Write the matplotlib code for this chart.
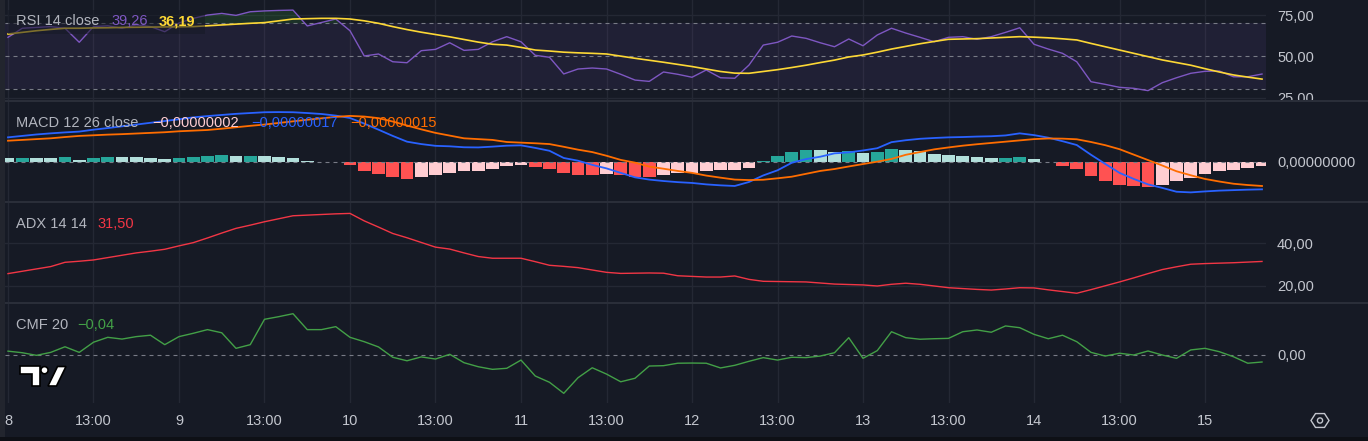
import matplotlib
matplotlib.use('Agg')
import matplotlib.pyplot as plt
import numpy as np
from matplotlib.patches import Polygon, Rectangle, Circle
from matplotlib.lines import Line2D

# ---- data (one value per 2h bar) ----
tick_pos = [0, 6, 12, 18, 24, 30, 36, 42, 48, 54, 60, 66, 72, 78, 84]
tick_lbl = ['8', '13:00', '9', '13:00', '10', '13:00', '11', '13:00',
            '12', '13:00', '13', '13:00', '14', '13:00', '15']

rsi = [61.5, 67, 67.5, 68, 67, 58.5, 68, 68.5, 67, 69,
       68, 64.9, 70.2, 73, 75, 76, 74.8, 77, 77.5, 77.8,
       78, 68.4, 70.5, 72.6, 65.5, 50.2, 51.4, 46.7, 46.1, 53.4,
       54.2, 58.2, 53.6, 54.2, 58.8, 61.9, 58.8, 50.6, 49.4, 39.3,
       42.3, 42.9, 42.3, 39.1, 35.6, 34.8, 40.5, 39.1, 37.3, 41.7,
       37, 36.7, 44.7, 56.8, 58.5, 62.3, 60.9, 58.2, 55.8, 60.5,
       56.4, 62.9, 67, 64.1, 61.5, 58.8, 61.5, 61.9, 60.3, 61.9,
       64.5, 67.3, 57.3, 54.4, 51.8, 46.7, 34.6, 33, 31.2, 30.6,
       29.2, 34, 37, 39.7, 40.9, 41.1, 37.6, 37.6, 39.26]

rsi_ma = [63.5, 64.5, 65.5, 66.3, 67, 67, 67.2, 67.3, 67.5, 67.6,
          67.7, 67.8, 67.9, 68, 68.5, 69, 69.5, 70, 70.4, 71.5,
          72.6, 72.8, 73, 73, 72.6, 71.5, 70, 68, 66.2, 64.6,
          63.2, 61.8, 60.2, 58.6, 57.3, 56.8, 55.4, 53.8, 53.2, 52.5,
          52.1, 51.8, 51.4, 50.1, 48.8, 47.6, 46.4, 45.1, 43.8, 42.3,
          40.8, 39.8, 39.7, 40.8, 41.9, 43.2, 44.6, 46.2, 47.7, 49.6,
          50.8, 52.5, 54.4, 56, 57.6, 59, 60.3, 60.5, 60.7, 61.1,
          61.5, 61.9, 61.6, 61.2, 60.6, 59.9, 57.8, 55.8, 53.8, 51.8,
          49.8, 47.8, 46.2, 44.6, 42.5, 40.5, 38.7, 37.4, 36.19]

# MACD values in units of 1e-8
macd = [15.4, 16.3, 17.2, 17.9, 18.5, 19, 20.2, 21.2, 22.3, 23.4,
        24.5, 25.6, 26.7, 27.9, 28.7, 29.4, 30.1, 30.6, 31.1, 31.2,
        31.1, 30.6, 30, 29, 27.5, 24, 20.2, 16.3, 12.7, 11.2,
        10.1, 9.8, 9.2, 9.1, 9.6, 10.2, 10.4, 8.8, 7, 2.5,
        0.8, -1.8, -4, -6.8, -9.6, -11, -11.9, -12.6, -13.1, -14,
        -14.6, -15, -12.5, -8.4, -5.2, -0.5, 1.8, 3.3, 5.4, 6,
        7.2, 8.6, 12.4, 13.6, 14.5, 15, 15.4, 15.6, 15.9, 16.1,
        16.6, 17.9, 16.8, 15.2, 13, 10.6, 4.5, -1.2, -6.8, -10.6,
        -14, -16.2, -18.6, -19, -18.4, -17.9, -17.6, -17.3, -17.1]

signal = [13.3, 13.8, 14.3, 14.8, 15.6, 16.3, 16.7, 17.1, 17.4, 17.8,
          18.2, 18.6, 19.2, 19.6, 20, 20.8, 21.7, 22.6, 23.4, 24.4,
          25.4, 26.4, 27.3, 28.2, 28.8, 28.4, 27.4, 25.3, 22.8, 20.4,
          18.2, 16.5, 14.8, 14.3, 13.8, 12.5, 12.1, 11.7, 11.2, 9.5,
          7.7, 6.2, 3.9, 1.3, -0.4, -2.9, -4.2, -5.6, -6.8, -8.5,
          -9.8, -11, -11.3, -11.1, -10.2, -9.2, -7.4, -5.6, -4.4, -2.8,
          -1.3, 0.2, 1.9, 4.5, 6.2, 7.9, 9.1, 10.2, 11.1, 11.9,
          12.7, 13.5, 14.3, 14.7, 14.6, 14.2, 12.5, 10.5, 8, 4.6,
          1.2, -2.2, -5.8, -8.3, -10.6, -12.2, -13.6, -14.4, -15]

hist = [2.2, 2.6, 2.4, 2.3, 3.1, 1.3, 2.5, 3.1, 3.0, 2.9,
        2.5, 1.9, 2.5, 3.1, 3.75, 4.6, 3.9, 4.0, 3.8, 3.1,
        2.5, 0.8, 0.3, 0.2, -1.7, -5.6, -7.3, -9.4, -10.6, -9.2,
        -8.1, -6.7, -5.6, -5.4, -4.4, -2.3, -1.7, -2.9, -4.4, -6.7,
        -7.9, -8.0, -7.8, -8.1, -9.2, -9.3, -7.9, -7.1, -6.7, -5.4,
        -5.3, -4.8, -3.5, 0.8, 3.75, 6.25, 7.5, 7.4, 6.25, 6.9,
        5.8, 6.25, 8.1, 7.5, 7.1, 5.0, 4.4, 3.75, 3.3, 2.5,
        2.6, 3.3, 1.9, 0.2, -2.3, -4.4, -8.5, -11.7, -14.2, -14.8,
        -15.4, -14.2, -11.7, -10, -7.3, -5.4, -4.8, -3.5, -2.4]

adx = [25.8, 26.9, 28, 29.1, 31.1, 31.6, 32.2, 33.3, 34.4, 35.5,
       36.3, 37.2, 38.8, 40.3, 42.5, 44.8, 47, 48.5, 50.1, 51.5,
       52.9, 53.2, 53.5, 53.8, 54, 50.5, 47.6, 44.6, 42.6, 40.4,
       38.2, 37.3, 35.5, 33.8, 33, 33, 33, 31.4, 29.7, 29.2,
       28.6, 27.5, 26.4, 25.9, 26, 26.1, 26, 24.8, 24.5, 24.2,
       24.2, 24.7, 23.1, 22.2, 22.1, 22, 21.9, 21.4, 20.9, 20.7,
       20.5, 20, 20.8, 21.3, 20.8, 20, 19.2, 18.8, 18.4, 18.1,
       18.6, 19.2, 19.1, 18.2, 17.4, 16.6, 18.3, 20.1, 21.9, 23.8,
       25.8, 27.7, 29, 30.2, 30.5, 30.7, 30.9, 31.2, 31.5]

cmf = [0.022, 0.013, -0.002, 0.015, 0.047, 0.015, 0.073, 0.101, 0.091, 0.105,
       0.113, 0.059, 0.105, 0.124, 0.145, 0.127, 0.038, 0.059, 0.204, 0.219,
       0.236, 0.145, 0.145, 0.162, 0.101, 0.076, 0.046, -0.013, -0.033, -0.011,
       -0.023, 0.004, -0.044, -0.067, -0.082, -0.076, -0.029, -0.12, -0.156, -0.219,
       -0.13, -0.073, -0.109, -0.153, -0.133, -0.063, -0.061, -0.047, -0.046, -0.047,
       -0.074, -0.059, -0.036, -0.015, -0.029, -0.013, -0.015, -0.006, 0.013, 0.099,
       -0.019, 0.025, 0.133, 0.099, 0.09, 0.093, 0.095, 0.133, 0.143, 0.13,
       0.166, 0.156, 0.118, 0.093, 0.113, 0.076, 0.015, -0.006, 0.01, 0.0,
       0.023, 0.0, -0.019, 0.029, 0.038, 0.019, -0.01, -0.047, -0.04]

# ---- style ----
BG = '#161a25'
GRID = '#242834'
SEP = '#2a2e39'
DASH = '#787b86'
TXT = '#b2b5be'
AXT = '#c3c6ce'
FS = 10.5

plt.rcParams['font.family'] = ['Liberation Sans', 'DejaVu Sans']

W, H = 1368, 441
fig = plt.figure(figsize=(W / 100, H / 100), dpi=100, facecolor=BG)


def P(x, y):
    return (x / W, 1 - y / H)


def rect(top, bottom):
    return [5 / W, 1 - bottom / H, (1266 - 5) / W, (bottom - top) / H]


def fmt(v, d):
    return f'{v:.{d}f}'.replace('.', ',').replace('-', '\u2212')


x = np.arange(len(rsi))
rsi = np.array(rsi)

ax_rsi = fig.add_axes(rect(0, 100))
ax_macd = fig.add_axes(rect(102, 201.5))
ax_adx = fig.add_axes(rect(203, 302.5))
ax_cmf = fig.add_axes(rect(304, 403))

for ax in [ax_rsi, ax_macd, ax_adx, ax_cmf]:
    ax.set_facecolor(BG)
    for s in ax.spines.values():
        s.set_visible(False)
    ax.set_xlim(-0.21, 88.28)
    for t in tick_pos:
        ax.axvline(t, color=GRID, lw=1, zorder=0)
    ax.yaxis.tick_right()
    ax.tick_params(axis='y', length=0, pad=8, labelsize=FS, labelcolor=AXT)
    ax.tick_params(axis='x', length=0, labelbottom=False)

dash = (0, (3.6, 3.6))

# RSI
ax_rsi.set_ylim(23.52, 84.12)
ax_rsi.axhspan(30, 70, color='#7e57c2', alpha=0.1, lw=0, zorder=0.5)
for lv in [75, 25]:
    ax_rsi.axhline(lv, color=GRID, lw=1, zorder=0)
for lv in [70, 50, 30]:
    ax_rsi.axhline(lv, color=DASH, lw=0.8, ls=dash, zorder=1)
ax_rsi.fill_between(x, rsi, 70, where=rsi > 70, interpolate=True,
                    color='#2e7d32', alpha=0.25, lw=0, zorder=1)
ax_rsi.fill_between(x, rsi, 30, where=rsi < 30, interpolate=True,
                    color='#c62828', alpha=0.25, lw=0, zorder=1)
ax_rsi.plot(x, rsi, color='#7e57c2', lw=1.0, zorder=3)
ax_rsi.plot(x, rsi_ma, color='#fdd835', lw=1.2, zorder=3)
ax_rsi.set_yticks([75, 50, 25])
ax_rsi.set_yticklabels([fmt(v, 2) for v in [75, 50, 25]])

# MACD
ax_macd.set_ylim(-24.7, 37.5)
hcol = []
for i, h in enumerate(hist):
    prev = hist[i - 1] if i > 0 else h
    if h >= 0:
        hcol.append('#26a69a' if h > prev else '#b2dfdb')
    else:
        hcol.append('#ffcdd2' if h > prev else '#ff5252')
ax_macd.bar(x, hist, width=0.88, color=hcol, zorder=2)
ax_macd.axhline(0, color=DASH, lw=0.8, ls=dash, zorder=2.5)
ax_macd.plot(x, macd, color='#2962ff', lw=1.3, zorder=3)
ax_macd.plot(x, signal, color='#ff6d00', lw=1.3, zorder=3)
ax_macd.set_yticks([0])
ax_macd.set_yticklabels(['0,00000000'])

# ADX
ax_adx.set_ylim(12.27, 58.88)
for lv in [40, 20]:
    ax_adx.axhline(lv, color=GRID, lw=1, zorder=0)
ax_adx.plot(x, adx, color='#f23645', lw=1.0, zorder=3)
ax_adx.set_yticks([40, 20])
ax_adx.set_yticklabels([fmt(v, 2) for v in [40, 20]])

# CMF
ax_cmf.set_ylim(-0.2743, 0.2914)
ax_cmf.axhline(0, color=DASH, lw=0.8, ls=dash, zorder=1)
ax_cmf.plot(x, cmf, color='#43a047', lw=1.0, zorder=3)
ax_cmf.set_yticks([0])
ax_cmf.set_yticklabels(['0,00'])
ax_cmf.set_xticks(tick_pos)
ax_cmf.set_xticklabels(tick_lbl)
ax_cmf.tick_params(axis='x', length=0, pad=8, labelbottom=True,
                   labelsize=FS, labelcolor=AXT)

# ---- figure decorations ----
fig.add_artist(Rectangle(P(1266, 140), 102 / W, 39.5 / H, transform=fig.transFigure,
                         color=BG, lw=0, zorder=1))
for yy in [101, 202, 303]:
    fig.add_artist(Line2D([0, 1], [1 - yy / H] * 2, transform=fig.transFigure,
                          color=SEP, lw=1.5, zorder=2))
fig.add_artist(Rectangle((0, 0), 4.5 / W, 1, transform=fig.transFigure,
                         color='#22252e', lw=0, zorder=2))
fig.add_artist(Rectangle((0, 0), 1, 4.5 / H, transform=fig.transFigure,
                         color='#0e1016', lw=0, zorder=2))
fig.add_artist(Rectangle(P(8, 34), 197 / W, 24 / H, transform=fig.transFigure,
                         color=BG, alpha=0.55, lw=0, zorder=2))

# legends
def label(px, py, s, c, **kw):
    fig.text(px / W, 1 - py / H, s, color=c, fontsize=FS, va='center', ha='left', **kw)

label(16, 21, 'RSI 14 close', TXT)
label(111, 21, '39,26', '#7e57c2')
label(159, 21, '36,19', '#fdd835', fontweight='bold')
label(16, 123, 'MACD 12 26 close', TXT)
label(152, 123, '\u22120,00000002', '#ffcdd2')
label(251, 123, '\u22120,00000017', '#2962ff')
label(350, 123, '\u22120,00000015', '#ff6d00')
label(16, 224, 'ADX 14 14', TXT)
label(97, 224, '31,50', '#f23645')
label(16, 325, 'CMF 20', TXT)
label(77, 325, '\u22120,04', '#43a047')

# logo
logo = dict(transform=fig.transFigure, facecolor='white', edgecolor='black', lw=1.2, zorder=4)
fig.add_artist(Polygon([P(19.5, 366), P(39.5, 366), P(39.5, 386), P(31.5, 386),
                        P(31.5, 374), P(19.5, 374)], closed=True, **logo))
fig.add_artist(Polygon([P(48, 386), P(57.5, 366.5), P(66, 366.5), P(56.5, 386)],
                       closed=True, **logo))
th = np.linspace(0, 2 * np.pi, 30)
fig.add_artist(Polygon([P(44.5 + 3.6 * np.cos(t), 370.2 + 3.6 * np.sin(t)) for t in th],
                       closed=True, **logo))

# settings hexagon
ang = np.deg2rad(np.arange(0, 360, 60))
fig.add_artist(Polygon([P(1320 + 9 * np.cos(a), 420.5 + 8 * np.sin(a)) for a in ang],
                       closed=True, transform=fig.transFigure, facecolor='none',
                       edgecolor=AXT, lw=1.0, zorder=4))
fig.add_artist(Polygon([P(1320 + 2.6 * np.cos(t), 420.5 + 2.6 * np.sin(t)) for t in th],
                       closed=True, transform=fig.transFigure, facecolor='none',
                       edgecolor=AXT, lw=1.0, zorder=4))

fig.savefig('out.png', dpi=100, facecolor=BG)
